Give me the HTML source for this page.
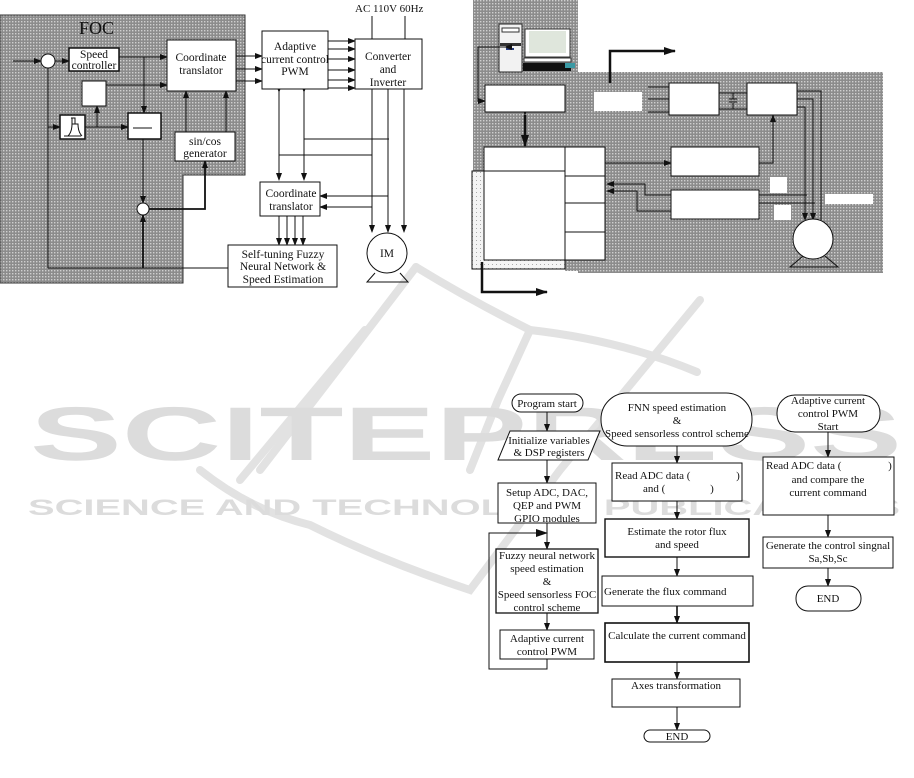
<!DOCTYPE html>
<html><head><meta charset="utf-8"><style>
html,body{margin:0;padding:0;background:#fff}
svg{display:block}
text{font-family:"Liberation Serif",serif;fill:#111}
</style></head><body>
<svg width="914" height="778" viewBox="0 0 914 778" xmlns="http://www.w3.org/2000/svg">
<defs>
<pattern id="g" width="3" height="3" patternUnits="userSpaceOnUse"><rect width="3" height="3" fill="#8c8c8c"/><rect x="0" y="0" width="1.4" height="1.4" fill="#cfcfcf"/></pattern>
<pattern id="d" width="4" height="4" patternUnits="userSpaceOnUse"><rect width="4" height="4" fill="#f4f4f4"/><rect width="1" height="1" fill="#aaa"/></pattern>
<marker id="a" markerWidth="8" markerHeight="6" refX="7" refY="3" orient="auto" markerUnits="userSpaceOnUse"><path d="M0,0 L8,3 L0,6z" fill="#111"/></marker>
<marker id="b" markerWidth="12" markerHeight="8" refX="11" refY="4" orient="auto" markerUnits="userSpaceOnUse"><path d="M0,0 L12,4 L0,8z" fill="#111"/></marker>
</defs>

<!-- watermark -->
<g fill="none" stroke="#e2e2e2" stroke-width="8" stroke-linecap="round">
<path d="M416,267 L318,395 L260,470"/>
<path d="M416,267 Q470,300 530,330 Q620,340 697,372"/>
<path d="M530,330 L498,400 L470,470"/>
<path d="M365,330 L240,480"/>
<path d="M200,470 Q250,510 310,525 Q380,560 470,590 L560,470 L700,300"/>
</g>
<text x="30" y="460" font-size="76" textLength="872" lengthAdjust="spacingAndGlyphs" style="fill:#dcdcdc;font-family:'Liberation Sans',sans-serif;font-weight:bold">SCITEPRESS</text>
<text x="28" y="515" font-size="22" textLength="872" lengthAdjust="spacingAndGlyphs" style="fill:#dcdcdc;font-family:'Liberation Sans',sans-serif;font-weight:bold">SCIENCE AND TECHNOLOGY PUBLICATIONS</text>

<!-- ===== LEFT DIAGRAM ===== -->
<path d="M0,15 H245 V175 H183 V283 H0 Z" fill="url(#g)" stroke="#333"/>
<text x="79" y="34" font-size="18">FOC</text>
<g stroke="#111" stroke-width="1" fill="none">
<line x1="13" y1="61" x2="41" y2="61" marker-end="url(#a)"/>
<line x1="55" y1="61" x2="69" y2="61" marker-end="url(#a)"/>
<line x1="119" y1="57" x2="167" y2="57" marker-end="url(#a)"/>
<line x1="106" y1="85" x2="167" y2="85" marker-end="url(#a)"/>
<line x1="144" y1="57" x2="144" y2="113" marker-end="url(#a)"/>
<line x1="48" y1="68" x2="48" y2="268"/>
<line x1="48" y1="127" x2="60" y2="127" marker-end="url(#a)"/>
<line x1="85" y1="127" x2="128" y2="127" marker-end="url(#a)"/>
<line x1="97" y1="127" x2="97" y2="106" marker-end="url(#a)"/>
<line x1="143" y1="139" x2="143" y2="203" marker-end="url(#a)"/>
<line x1="186" y1="132" x2="186" y2="91" marker-end="url(#a)"/>
<line x1="226" y1="132" x2="226" y2="91" marker-end="url(#a)"/>
<polyline points="149,209 205,209 205,161" marker-end="url(#a)" stroke-width="1.8"/>
<line x1="143" y1="268" x2="143" y2="215" marker-end="url(#a)" stroke-width="1.8"/>
<line x1="48" y1="268" x2="228" y2="268"/>
<line x1="236" y1="56" x2="262" y2="56" marker-end="url(#a)"/>
<line x1="236" y1="69" x2="262" y2="69" marker-end="url(#a)"/>
<line x1="236" y1="81" x2="262" y2="81" marker-end="url(#a)"/>
<line x1="328" y1="41" x2="355" y2="41" marker-end="url(#a)"/>
<line x1="328" y1="49" x2="355" y2="49" marker-end="url(#a)"/>
<line x1="328" y1="59" x2="355" y2="59" marker-end="url(#a)"/>
<line x1="328" y1="70" x2="355" y2="70" marker-end="url(#a)"/>
<line x1="328" y1="80" x2="355" y2="80" marker-end="url(#a)"/>
<line x1="328" y1="88" x2="355" y2="88" marker-end="url(#a)"/>
<line x1="372" y1="16" x2="372" y2="39"/>
<line x1="405" y1="16" x2="405" y2="39"/>
<line x1="279" y1="92" x2="279" y2="180" marker-end="url(#a)" marker-start="url(#a)"/>
<line x1="304" y1="92" x2="304" y2="180" marker-end="url(#a)" marker-start="url(#a)"/>
<line x1="304" y1="139" x2="389" y2="139"/>
<line x1="279" y1="155" x2="372" y2="155"/>
<line x1="372" y1="89" x2="372" y2="232" marker-end="url(#a)"/>
<line x1="388" y1="89" x2="388" y2="232" marker-end="url(#a)"/>
<line x1="404" y1="89" x2="404" y2="232" marker-end="url(#a)"/>
<line x1="388" y1="196" x2="320" y2="196" marker-end="url(#a)"/>
<line x1="372" y1="207" x2="320" y2="207" marker-end="url(#a)"/>
<line x1="279" y1="216" x2="279" y2="245" marker-end="url(#a)"/>
<line x1="287" y1="216" x2="287" y2="245" marker-end="url(#a)"/>
<line x1="295" y1="216" x2="295" y2="245" marker-end="url(#a)"/>
<line x1="303" y1="216" x2="303" y2="245" marker-end="url(#a)"/>
</g>
<g stroke="#111" fill="#fff">
<circle cx="48" cy="61" r="7"/>
<circle cx="143" cy="209" r="6"/>
<rect x="69" y="48" width="50" height="23" stroke-width="1.5"/>
<rect x="167" y="40" width="69" height="51"/>
<rect x="82" y="81" width="24" height="25"/>
<rect x="60" y="115" width="25" height="24" stroke-width="1.5"/>
<rect x="128" y="113" width="33" height="26" stroke-width="1.5"/>
<rect x="175" y="132" width="60" height="29"/>
<rect x="262" y="31" width="66" height="58"/>
<rect x="355" y="39" width="67" height="50"/>
<rect x="260" y="182" width="60" height="34"/>
<rect x="228" y="245" width="109" height="42"/>
<circle cx="387" cy="253" r="20"/>
</g>
<line x1="133" y1="128" x2="152" y2="128" stroke="#111"/>
<path d="M64,136 h17 M68,136 Q72,132 72,124 h6 Q78,132 82,136 M72,124 v-6 M75,124 v-6 h-4" stroke="#111" fill="none"/>
<path d="M375,273 L367,282 H408 L400,273" stroke="#111" fill="none"/>
<g font-size="11.5" text-anchor="middle">
<text x="94" y="58">Speed</text><text x="94" y="69">controller</text>
<text x="201" y="61">Coordinate</text><text x="201" y="74">translator</text>
<text x="205" y="145">sin/cos</text><text x="205" y="157">generator</text>
<text x="295" y="50">Adaptive</text><text x="295" y="63">current control</text><text x="295" y="75">PWM</text>
<text x="388" y="60">Converter</text><text x="388" y="73">and</text><text x="388" y="86">Inverter</text>
<text x="355" y="12" text-anchor="start" font-size="11">AC 110V 60Hz</text>
<text x="291" y="197">Coordinate</text><text x="291" y="210">translator</text>
<text x="283" y="258">Self-tuning Fuzzy</text><text x="283" y="270">Neural Network &amp;</text><text x="283" y="283">Speed Estimation</text>
<text x="387" y="257">IM</text>
</g>

<!-- ===== RIGHT DIAGRAM ===== -->
<path d="M473,0 H578 V72 H883 V273 H578 V271 H565 V171 H473 Z" fill="url(#g)"/>
<rect x="472" y="171" width="93" height="98" fill="url(#d)" stroke="#111"/>
<rect x="499" y="24" width="23" height="48" fill="#f2f2f2" stroke="#222"/>
<rect x="502" y="28" width="17" height="4" fill="#fff" stroke="#333"/>
<rect x="500" y="43" width="21" height="3" fill="#333"/>
<rect x="506" y="48" width="8" height="2" fill="#2a3d80"/>
<rect x="525" y="29" width="45" height="28" fill="#fff" stroke="#333"/>
<rect x="529" y="31" width="37" height="22" fill="#dfe6dc"/>
<rect x="524" y="58" width="47" height="4" fill="#fff" stroke="#333"/>
<rect x="523" y="63" width="48" height="8" fill="#111"/>
<rect x="565" y="63" width="10" height="5" fill="#3a9aa5"/>
<g stroke="#111" fill="none">
<polyline points="505,47 478,47 478,101 485,101" marker-start="url(#a)" marker-end="url(#a)"/>
<line x1="525" y1="115" x2="525" y2="146" stroke-width="2.5" marker-start="url(#b)" marker-end="url(#b)"/>
<polyline points="610,83 610,51 675,51" stroke-width="2.5" marker-end="url(#b)"/>
<polyline points="482,262 482,292 547,292" stroke-width="2.5" marker-end="url(#b)"/>
<line x1="648" y1="87" x2="669" y2="87"/><line x1="648" y1="99" x2="669" y2="99"/><line x1="648" y1="112" x2="669" y2="112"/>
<line x1="719" y1="93" x2="747" y2="93"/><line x1="719" y1="109" x2="747" y2="109"/>
<line x1="733" y1="93" x2="733" y2="99"/><line x1="733" y1="103" x2="733" y2="109"/>
<line x1="729" y1="99" x2="737" y2="99"/><line x1="729" y1="102" x2="737" y2="102"/>
<polyline points="759,163 773,163 773,115" marker-end="url(#a)"/>
<line x1="605" y1="163" x2="671" y2="163" marker-end="url(#a)"/>
<polyline points="671,195 645,195 645,184 607,184" marker-end="url(#a)"/>
<polyline points="671,211 637,211 637,191 607,191" marker-end="url(#a)"/>
<polyline points="797,91 821,91 821,220"/>
<polyline points="797,99 813,99 813,220" marker-end="url(#a)"/>
<polyline points="797,107 805,107 805,220" marker-end="url(#a)"/>
<line x1="759" y1="195" x2="807" y2="195" marker-start="url(#a)"/>
<line x1="759" y1="203" x2="815" y2="203" marker-start="url(#a)"/>
</g>
<g stroke="#111" fill="#fff">
<rect x="485" y="85" width="80" height="27"/>
<rect x="669" y="83" width="50" height="32"/>
<rect x="747" y="83" width="50" height="32"/>
<rect x="484" y="147" width="121" height="113"/>
<rect x="671" y="147" width="88" height="29"/>
<rect x="671" y="190" width="88" height="29"/>
<circle cx="813" cy="239" r="20"/>
</g>
<rect x="594" y="92" width="48" height="19" fill="#fff"/>
<rect x="770" y="177" width="17" height="16" fill="#fff"/>
<rect x="774" y="205" width="17" height="15" fill="#fff"/>
<rect x="825" y="194" width="48" height="10" fill="#fff"/>
<g stroke="#111" fill="none">
<line x1="565" y1="147" x2="565" y2="260"/>
<line x1="484" y1="171" x2="565" y2="171"/>
<line x1="565" y1="176" x2="605" y2="176"/>
<line x1="565" y1="203" x2="605" y2="203"/>
<line x1="565" y1="232" x2="605" y2="232"/>
<path d="M803,256 L790,267 H838 L825,256"/>
</g>

<!-- ===== FLOWCHART ===== -->
<g stroke="#111" fill="none">
<line x1="547" y1="412" x2="547" y2="431" marker-end="url(#a)"/>
<line x1="547" y1="460" x2="547" y2="483" marker-end="url(#a)"/>
<line x1="547" y1="523" x2="547" y2="549" marker-end="url(#a)"/>
<line x1="547" y1="613" x2="547" y2="630" marker-end="url(#a)"/>
<polyline points="547,659 547,669 489,669 489,533 547,533" marker-end="url(#b)"/>
<line x1="677" y1="446" x2="677" y2="463" marker-end="url(#a)"/>
<line x1="677" y1="501" x2="677" y2="519" marker-end="url(#a)"/>
<line x1="677" y1="557" x2="677" y2="576" marker-end="url(#a)"/>
<line x1="677" y1="606" x2="677" y2="623" marker-end="url(#a)" stroke-width="1.6"/>
<line x1="677" y1="662" x2="677" y2="679" marker-end="url(#a)"/>
<line x1="677" y1="707" x2="677" y2="730" marker-end="url(#a)"/>
<line x1="828" y1="432" x2="828" y2="457" marker-end="url(#a)"/>
<line x1="828" y1="515" x2="828" y2="537" marker-end="url(#a)"/>
<line x1="828" y1="568" x2="828" y2="586" marker-end="url(#a)"/>
</g>
<g stroke="#111" fill="#fff">
<rect x="512" y="394" width="71" height="18" rx="9"/>
<path d="M510,431 H600 L588,460 H498 Z"/>
<rect x="498" y="483" width="98" height="40"/>
<rect x="496" y="549" width="102" height="64" stroke-width="1.3"/>
<rect x="500" y="630" width="94" height="29"/>
<rect x="601" y="393" width="151" height="53" rx="26"/>
<rect x="612" y="463" width="130" height="38"/>
<rect x="605" y="519" width="144" height="38" stroke-width="1.4"/>
<rect x="602" y="576" width="151" height="30"/>
<rect x="605" y="623" width="144" height="39" stroke-width="1.6"/>
<rect x="612" y="679" width="128" height="28"/>
<rect x="644" y="730" width="66" height="12" rx="6"/>
<rect x="777" y="395" width="103" height="37" rx="18"/>
<rect x="763" y="457" width="131" height="58"/>
<rect x="763" y="537" width="130" height="31"/>
<rect x="796" y="586" width="65" height="25" rx="12"/>
</g>
<g font-size="11" text-anchor="middle">
<text x="547" y="407">Program start</text>
<text x="549" y="444">Initialize variables</text><text x="549" y="456">&amp; DSP registers</text>
<text x="547" y="496">Setup ADC, DAC,</text><text x="547" y="509">QEP and PWM</text><text x="547" y="522">GPIO modules</text>
<text x="547" y="559">Fuzzy neural network</text><text x="547" y="572">speed estimation</text><text x="547" y="585">&amp;</text><text x="547" y="598">Speed sensorless FOC</text><text x="547" y="611">control scheme</text>
<text x="547" y="642">Adaptive current</text><text x="547" y="655">control PWM</text>
<text x="677" y="411">FNN speed estimation</text><text x="677" y="424">&amp;</text><text x="677" y="437">Speed sensorless control scheme</text>
<text x="615" y="479" text-anchor="start">Read ADC data (</text><text x="738" y="479">)</text>
<text x="643" y="492" text-anchor="start">and (</text><text x="712" y="492">)</text>
<text x="677" y="535">Estimate the rotor flux</text><text x="677" y="548">and speed</text>
<text x="604" y="595" text-anchor="start">Generate the flux  command</text>
<text x="677" y="639">Calculate the current command</text>
<text x="676" y="689">Axes transformation</text>
<text x="677" y="740">END</text>
<text x="828" y="404">Adaptive current</text><text x="828" y="417">control PWM</text><text x="828" y="430">Start</text>
<text x="766" y="469" text-anchor="start">Read ADC data (</text><text x="890" y="469">)</text>
<text x="828" y="483">and compare the</text><text x="828" y="496">current command</text>
<text x="828" y="549">Generate the control singnal</text><text x="828" y="562">Sa,Sb,Sc</text>
<text x="828" y="602">END</text>
</g>
</svg>
</body></html>
